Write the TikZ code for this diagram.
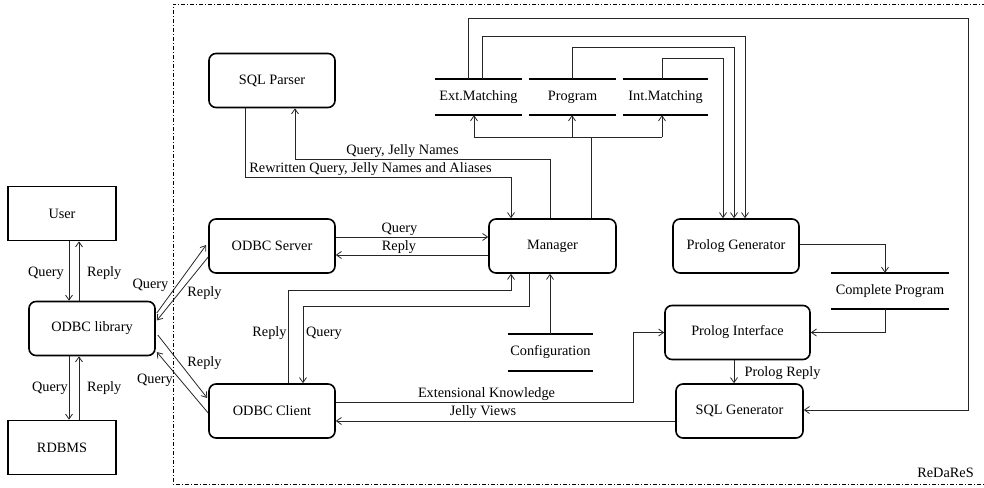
\documentclass[tikz,border=0pt]{standalone}
\usepackage{fontspec}
\setmainfont{Liberation Serif}
\usetikzlibrary{arrows.meta,calc}
\begin{document}
\begin{tikzpicture}[x=1pt,y=-1pt,
  font=\fontsize{14.3}{17}\selectfont,
  sqbox/.style={draw,line width=1.6pt,minimum width=108pt,minimum height=54pt,inner sep=0pt},
  rbox/.style={draw,line width=1.6pt,rounded corners=7pt,minimum width=126pt,minimum height=54pt,inner sep=0pt},
  store/.style={minimum height=36pt,inner sep=0pt},
  storeline/.style={line width=2pt},
  conn/.style={line width=0.8pt,black!85},
  arr/.style={conn,-{Straight Barb[length=5pt,width=7pt]}},
  lbl/.style={inner sep=0pt}]
\useasboundingbox (0,0) rectangle (984,487);
\clip (0,0) rectangle (984,487);

% frame
\draw[line width=0.7pt,dash pattern=on 4pt off 2pt on 1pt off 2pt] (995,4) -- (173,4) -- (173,484) -- (995,484);
\node[lbl] (redares) at (945.5,473) {ReDaReS};

% boxes
\node[sqbox] (user) at (62,213.5) {User};
\node[rbox] (lib) at (92,328.5) {ODBC library};
\node[sqbox] (rdbms) at (62,447.5) {RDBMS};
\node[rbox] (parser) at (272,80.5) {SQL Parser};
\node[rbox] (server) at (272,246) {ODBC Server};
\node[rbox] (client) at (272,411) {ODBC Client};
\node[rbox,minimum width=127pt] (manager) at (552.5,246) {Manager};
\node[rbox] (pgen) at (736,246) {Prolog Generator};
\node[rbox,minimum width=145pt] (pint) at (737.5,332.5) {Prolog Interface};
\node[rbox,minimum width=127pt] (sqlgen) at (739.5,411) {SQL Generator};

% stores
\node[store,minimum width=87pt] (ext) at (478.5,97) {Ext.Matching};
\node[store,minimum width=87pt] (prog) at (572.5,97) {Program};
\node[store,minimum width=85pt] (int) at (665.5,97) {Int.Matching};
\node[store,minimum width=118pt] (compl) at (890,291) {Complete Program};
\node[store,minimum width=85pt,minimum height=37pt] (config) at (550.5,352.5) {Configuration};
\foreach \n in {ext,prog,int,compl,config}{
  \draw[storeline] (\n.north west) -- (\n.north east) (\n.south west) -- (\n.south east);
}

% user / library / rdbms
\draw[arr] ([xshift=7pt]user.south) -- ([xshift=7pt]user.south |- lib.north);
\draw[arr] ([xshift=17pt]user.south |- lib.north) -- ([xshift=17pt]user.south);
\draw[arr] ([xshift=7pt]rdbms.north |- lib.south) -- ([xshift=7pt]rdbms.north);
\draw[arr] ([xshift=17pt]rdbms.north) -- ([xshift=17pt]rdbms.north |- lib.south);
\node[lbl,anchor=east] (lq1) at (64,273) {Query};
\node[lbl,anchor=west] (lr1) at (87,273) {Reply};
\node[lbl,anchor=east] (lq2) at (68,388) {Query};
\node[lbl,anchor=west] (lr2) at (87,388) {Reply};

% library <-> server / client
\draw[arr] ($(lib.east)+(1,-15.5)$) -- ($(server.west)+(-2,-1)$);
\draw[arr] ($(server.west)+(0,11)$) -- ($(lib.east)+(1,-8)$);
\draw[arr] ($(lib.east)+(2,6.5)$) -- ($(client.west)+(-1,-13)$);
\draw[arr] ($(client.west)+(0,2)$) -- ($(lib.east)+(1,23.5)$);
\node[lbl] (dq1) at (150.5,285) {Query};
\node[lbl] (dr1) at (204.5,293) {Reply};
\node[lbl] (dr2) at (204.5,363) {Reply};
\node[lbl] (dq2) at (155,380) {Query};

% server <-> manager
\draw[arr] ($(server.east)+(0,-9)$) -- ($(manager.west)+(0,-9)$);
\draw[arr] ($(manager.west)+(0,9)$) -- ($(server.east)+(0,9)$);
\node[lbl] (sq) at (399.5,229) {Query};
\node[lbl] (sr) at (399,247) {Reply};

% parser <-> manager
\coordinate (qj) at (295,159);
\draw[arr] ([xshift=-2.5pt]manager.north) |- (qj) -- (qj |- parser.south);
\node[lbl] (lqj) at (402.5,151) {Query, Jelly Names};
\coordinate (rw) at (245,177);
\draw[arr] (rw |- parser.south) -- (rw) -| ([xshift=-41.5pt]manager.north);
\node[lbl] (lrw) at (370.5,169) {Rewritten Query, Jelly Names and Aliases};

% manager -> stores
\coordinate (st) at (591,137);
\coordinate (ea) at (474,137);
\coordinate (pa) at (572,137);
\coordinate (ia) at (662,137);
\draw[conn] ([xshift=38.5pt]manager.north) -- (st);
\draw[conn] (ea) -- (ia);
\draw[arr] (ea) -- (ea |- ext.south);
\draw[arr] (pa) -- (pa |- prog.south);
\draw[arr] (ia) -- (ia |- int.south);

% stores -> prolog generator / sql generator
\coordinate (c1) at (468,18);
\coordinate (r1) at (968,18);
\draw[arr] (c1 |- ext.north) -- (c1) -- (r1) |- ([yshift=1pt]sqlgen.east);
\coordinate (c2) at (482,36);
\coordinate (r2) at (745,36);
\draw[arr] (c2 |- ext.north) -- (c2) -- (r2) -- (r2 |- pgen.north);
\coordinate (c3) at (572,47);
\coordinate (r3) at (734,47);
\draw[arr] (c3 |- prog.north) -- (c3) -- (r3) -- (r3 |- pgen.north);
\coordinate (c4) at (662,58);
\coordinate (r4) at (723,58);
\draw[arr] (c4 |- int.north) -- (c4) -- (r4) -- (r4 |- pgen.north);

% prolog generator -> complete program -> prolog interface
\draw[arr] ([yshift=2pt]pgen.east) -| ([xshift=-5pt]compl.north);
\draw[arr] ([xshift=-5pt]compl.south) |- (pint.east);

% client <-> prolog interface / sql generator
\coordinate (ek) at (633,402);
\draw[arr] ($(client.east)+(0,-9)$) -- (ek) |- (pint.west);
\node[lbl] (lek) at (486.5,394) {Extensional Knowledge};
\draw[arr] ($(sqlgen.west)+(0,10)$) -- ($(client.east)+(0,10)$);
\node[lbl] (ljv) at (483,412) {Jelly Views};
\draw[arr] ([xshift=-3.5pt]pint.south) -- ([xshift=-3.5pt]pint.south |- sqlgen.north);
\node[lbl] (lpr) at (782.5,373) {Prolog Reply};

% client <-> manager
\coordinate (cr) at (288,290);
\draw[arr] (cr |- client.north) -- (cr) -| ([xshift=-41.5pt]manager.south);
\coordinate (cq) at (303,306);
\draw[arr] ([xshift=-23.5pt]manager.south) |- (cq) -- (cq |- client.north);
\node[lbl] (lcr) at (269.5,333) {Reply};
\node[lbl] (lcq) at (324,333) {Query};

% configuration -> manager
\draw[arr] ([xshift=-0.5pt]config.north) -- ([xshift=-0.5pt]config.north |- manager.south);
\end{tikzpicture}
\end{document}
